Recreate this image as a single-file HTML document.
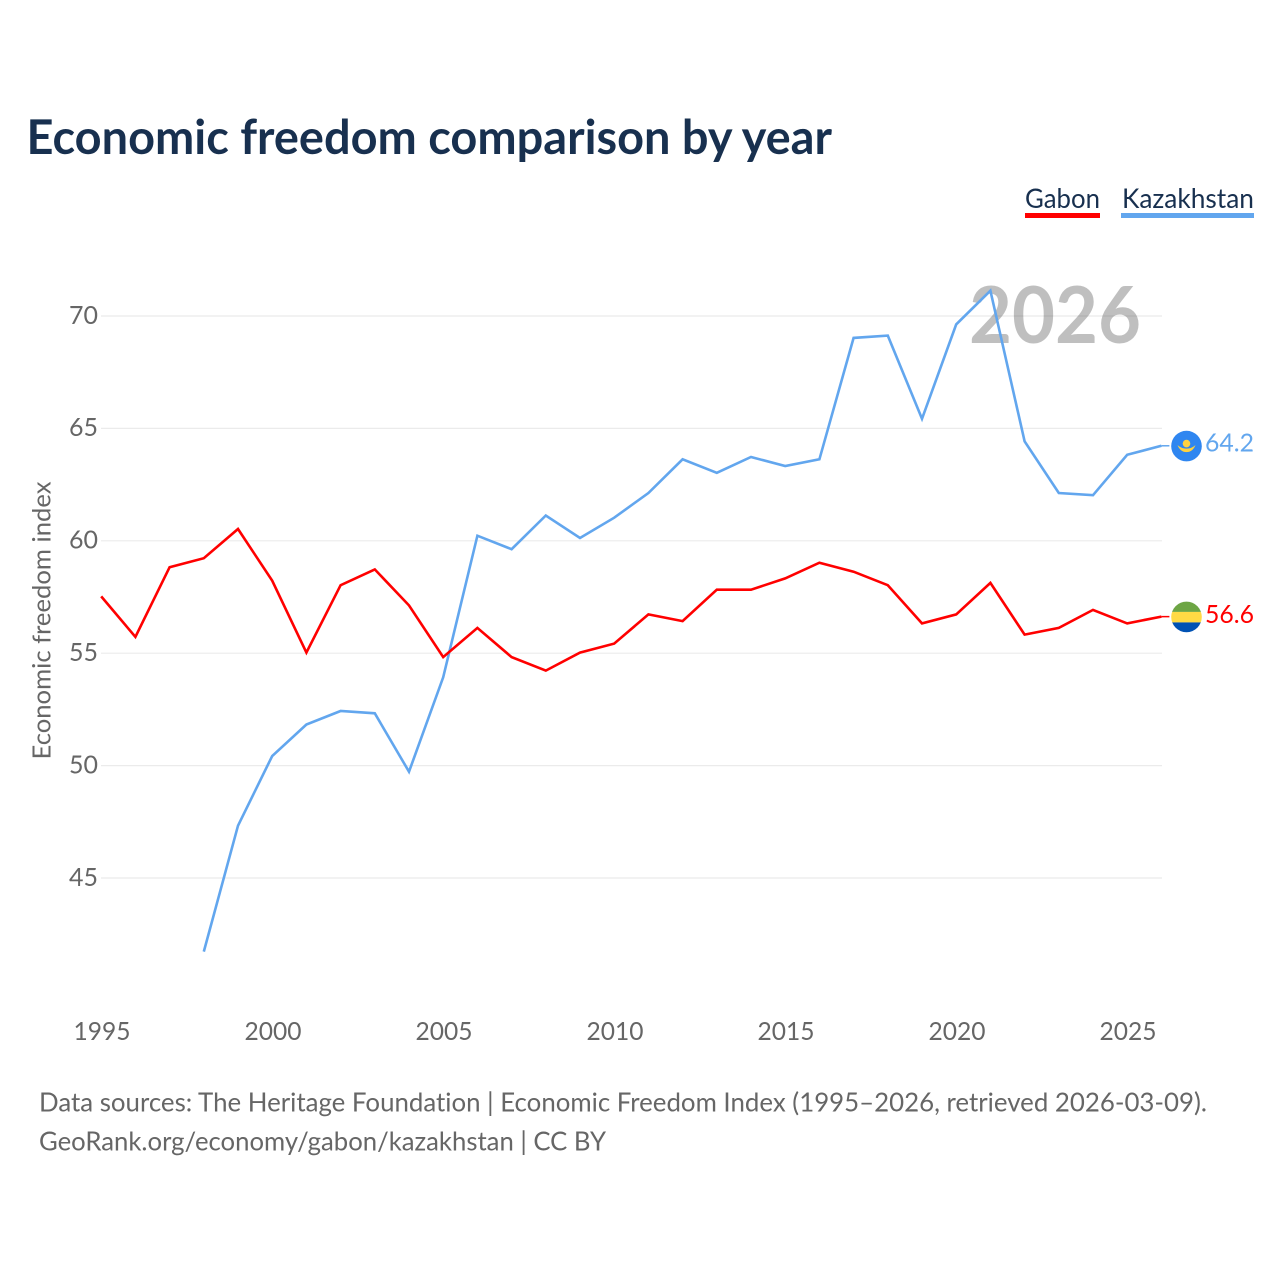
<!DOCTYPE html>
<html lang="en">
<head>
<meta charset="utf-8">
<title>Economic freedom comparison by year</title>
<style>
html,body{margin:0;padding:0;background:#fff;width:1280px;height:1280px;overflow:hidden}
svg{display:block}
text{font-family:"Lato","Carlito","Liberation Sans",sans-serif;font-variant-ligatures:none}
</style>
</head>
<body>
<svg id="chart" xmlns="http://www.w3.org/2000/svg" width="1280" height="1280" viewBox="0 0 1280 1280">
  <text x="26.5" y="154" font-size="47.5" font-weight="700" fill="#18304f" textLength="805.5" lengthAdjust="spacingAndGlyphs">Economic freedom comparison by year</text>
  <g id="grid"></g>
  <g id="yticks"></g>
  <g id="xticks"></g>
  <text transform="translate(50.7,620.5) rotate(-90)" text-anchor="middle" font-size="25.5" fill="#666" textLength="278" lengthAdjust="spacingAndGlyphs">Economic freedom index</text>
  <text x="1141" y="343" text-anchor="end" font-size="78.5" font-weight="700" fill="#000" fill-opacity="0.25" textLength="172" lengthAdjust="spacingAndGlyphs">2026</text>
  <g id="series"></g>
  <g>
    <text x="1025" y="208" font-size="27" fill="#18304f" textLength="75" lengthAdjust="spacingAndGlyphs">Gabon</text>
    <rect x="1025" y="213" width="75" height="5" fill="#ff0000"/>
  </g>
  <g>
    <text x="1122" y="208" font-size="27" fill="#18304f" textLength="132" lengthAdjust="spacingAndGlyphs">Kazakhstan</text>
    <rect x="1121" y="213" width="133" height="5" fill="#62a6ee"/>
  </g>
  <defs>
    <clipPath id="flagClip"><circle cx="0" cy="0" r="15.3"/></clipPath>
  </defs>
  <g id="flagKz">
    <circle r="15.3" fill="#2f86f0"/>
    <circle cx="0" cy="-2.5" r="3.8" fill="#ffd23f"/>
    <path d="M-9-1 Q-6 6 0 6 Q6 6 9-1 Q5 2.5 0 2.5 Q-5 2.5-9-1Z" fill="#ffd23f"/>
  </g>
  <g id="flagGa">
    <g clip-path="url(#flagClip)">
      <rect x="-16" y="-16" width="32" height="11" fill="#6da544"/>
      <rect x="-16" y="-5" width="32" height="10.5" fill="#ffda44"/>
      <rect x="-16" y="5.5" width="32" height="10.5" fill="#0052b4"/>
    </g>
  </g>
  <text id="valKz" x="1205" y="452" font-size="25.5" fill="#62a6ee" textLength="49" lengthAdjust="spacingAndGlyphs"></text>
  <text id="valGa" x="1205" y="623" font-size="25.5" fill="#ff0000" textLength="49" lengthAdjust="spacingAndGlyphs"></text>
  <text x="39" y="1111.5" font-size="26.5" fill="#666" textLength="1168" lengthAdjust="spacingAndGlyphs">Data sources: The Heritage Foundation | Economic Freedom Index (1995–2026, retrieved 2026-03-09).</text>
  <text x="39" y="1150.5" font-size="26.5" fill="#666" textLength="567" lengthAdjust="spacingAndGlyphs">GeoRank.org/economy/gabon/kazakhstan | CC BY</text>
</svg>
<script>
const years = [1995,1996,1997,1998,1999,2000,2001,2002,2003,2004,2005,2006,2007,2008,2009,2010,2011,2012,2013,2014,2015,2016,2017,2018,2019,2020,2021,2022,2023,2024,2025,2026];
const gabonValues = [57.5,55.7,58.8,59.2,60.5,58.2,55.0,58.0,58.7,57.1,54.8,56.1,54.8,54.2,55.0,55.4,56.7,56.4,57.8,57.8,58.3,59.0,58.6,58.0,56.3,56.7,58.1,55.8,56.1,56.9,56.3,56.6];
const kazakhstanValues = [null,null,null,41.7,47.3,50.4,51.8,52.4,52.3,49.7,53.9,60.2,59.6,61.1,60.1,61.0,62.1,63.6,63.0,63.7,63.3,63.6,69.0,69.1,65.4,69.6,71.1,64.4,62.1,62.0,63.8,64.2];
const yTickValues = [45,50,55,60,65,70];
const xTickValues = [1995,2000,2005,2010,2015,2020,2025];

const NS = 'http://www.w3.org/2000/svg';
const xScale = year => 101.2 + (year - 1995) * 34.2;
const yScale = value => 877.4 - (value - 45) * 22.48;
const gridY = value => 878 - (value - 45) * 22.48;

function make(tag, attrs, parent, content) {
  const el = document.createElementNS(NS, tag);
  for (const k in attrs) el.setAttribute(k, attrs[k]);
  if (content !== undefined) el.textContent = content;
  parent.appendChild(el);
  return el;
}

const gridGroup = document.getElementById('grid');
const yGroup = document.getElementById('yticks');
const xGroup = document.getElementById('xticks');
const seriesGroup = document.getElementById('series');

yTickValues.forEach(v => {
  const line = make('line', {x1: 101, x2: 1162, y1: gridY(v), y2: gridY(v), stroke: '#ebebeb', 'stroke-width': 1.2}, gridGroup);
  
  
  const label = make('text', {x: 98, y: gridY(v) + 7.8, 'text-anchor': 'end', 'font-size': 25.5, fill: '#666', textLength: 29, lengthAdjust: 'spacingAndGlyphs'}, yGroup, String(v));
  
  
});

xTickValues.forEach(y => {
  const label = make('text', {x: xScale(y) + 0.8, y: 1040, 'text-anchor': 'middle', 'font-size': 25.5, fill: '#666', textLength: 57, lengthAdjust: 'spacingAndGlyphs'}, xGroup, String(y));
  
  
});

function linePath(values) {
  let d = '';
  values.forEach((v, i) => {
    if (v === null) return;
    d += (d ? 'L' : 'M') + xScale(years[i]).toFixed(1) + ' ' + yScale(v).toFixed(1);
  });
  return d;
}

const kazLine = make('path', {d: linePath(kazakhstanValues), fill: 'none', stroke: '#62a6ee', 'stroke-width': 2.6, 'stroke-linejoin': 'miter'}, seriesGroup);


const gabLine = make('path', {d: linePath(gabonValues), fill: 'none', stroke: '#ff0000', 'stroke-width': 2.6, 'stroke-linejoin': 'miter'}, seriesGroup);



const lastX = xScale(years[years.length - 1]);
const kazLast = kazakhstanValues[kazakhstanValues.length - 1];
const gabLast = gabonValues[gabonValues.length - 1];

const kazConn = make('line', {x1: lastX, x2: lastX + 8, y1: yScale(kazLast), y2: yScale(kazLast), stroke: '#62a6ee', 'stroke-width': 1.5}, seriesGroup);


const gabConn = make('line', {x1: lastX, x2: lastX + 8, y1: yScale(gabLast), y2: yScale(gabLast), stroke: '#ff0000', 'stroke-width': 1.5}, seriesGroup);



document.getElementById('flagKz').setAttribute('transform', 'translate(1186.5,' + (yScale(kazLast) + 0.3) + ')');
document.getElementById('flagGa').setAttribute('transform', 'translate(1186.5,' + (yScale(gabLast) + 0.3) + ')');
const valKz = document.getElementById('valKz');
valKz.textContent = kazLast.toFixed(1);
valKz.setAttribute('y', yScale(kazLast) + 5.5);
const valGa = document.getElementById('valGa');
valGa.textContent = gabLast.toFixed(1);
valGa.setAttribute('y', yScale(gabLast) + 6.5);
</script>
</body>
</html>
